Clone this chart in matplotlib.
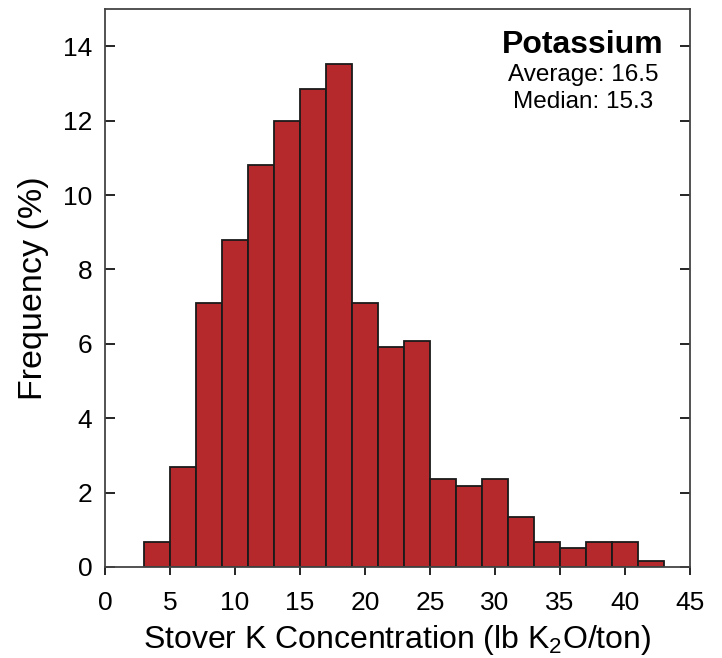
import matplotlib
matplotlib.use("Agg")
import matplotlib.pyplot as plt
import numpy as np

plt.rcParams['font.family'] = ['Liberation Sans', 'DejaVu Sans']

# histogram bins (lb K2O/ton) and frequency (%)
bin_edges = [3, 5, 7, 9, 11, 13, 15, 17, 19, 21, 23, 25, 27, 29, 31, 33, 35, 37, 39, 41, 43]
freq = [0.66, 2.70, 7.09, 8.79, 10.82, 12.0, 12.84, 13.52, 7.09, 5.92,
        6.08, 2.37, 2.19, 2.37, 1.34, 0.67, 0.50, 0.67, 0.67, 0.16]
x_ticks = [0, 5, 10, 15, 20, 25, 30, 35, 40, 45]
y_ticks = [0, 2, 4, 6, 8, 10, 12, 14]

fig = plt.figure(figsize=(7.22, 6.58), dpi=100)
ax = fig.add_axes([0.1454, 0.1383, 0.8103, 0.848])

left = np.array(bin_edges[:-1])
widths = np.diff(bin_edges)
ax.bar(left, freq, width=widths, align='edge', color='#B5292C',
       edgecolor='#1a1a1a', linewidth=1.3, zorder=2)

ax.set_xlim(0, 45)
ax.set_ylim(0, 15)
ax.set_xticks(x_ticks)
ax.set_yticks(y_ticks)
ax.tick_params(axis='x', direction='out', length=6, width=1.2, labelsize=19, pad=11)
ax.tick_params(axis='y', direction='in', length=7, width=1.2, labelsize=19, right=True, pad=9)
for s in ax.spines.values():
    s.set_linewidth(1.3)
    s.set_color('#444444')

ax.set_xlabel(r'Stover K Concentration (lb K$_\mathregular{2}$O/ton)', fontsize=23, labelpad=6)
ax.set_ylabel('Frequency (%)', fontsize=24.5, labelpad=10)

ax.text(0.817, 0.935, 'Potassium', transform=ax.transAxes, ha='center', va='center',
        fontsize=23, fontweight='bold')
ax.text(0.817, 0.882, 'Average: 16.5', transform=ax.transAxes, ha='center', va='center',
        fontsize=17.5)
ax.text(0.817, 0.833, 'Median: 15.3', transform=ax.transAxes, ha='center', va='center',
        fontsize=17.5)

fig.savefig('out.png', dpi=100)
